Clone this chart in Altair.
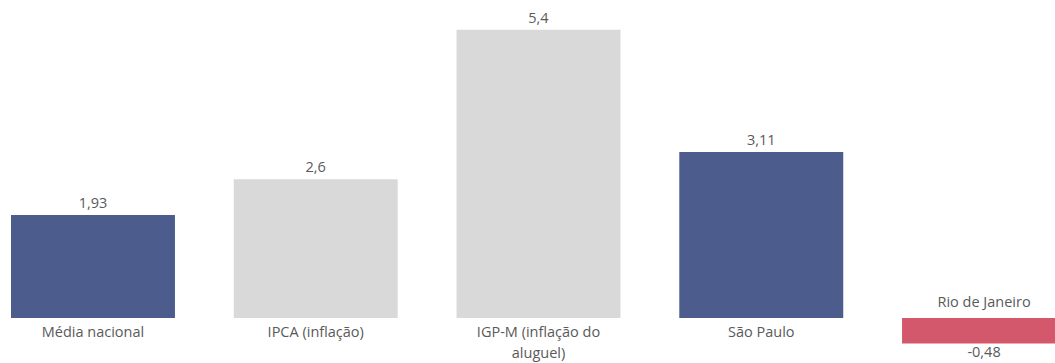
import altair as alt
import pandas as pd

categories = ["Média nacional", "IPCA (inflação)", "IGP-M (inflação do aluguel)", "São Paulo", "Rio de Janeiro"]
cat_lines = [["Média nacional"], ["IPCA (inflação)"], ["IGP-M (inflação do", "aluguel)"], ["São Paulo"], ["Rio de Janeiro"]]
values = [1.93, 2.6, 5.4, 3.11, -0.48]
value_labels = ["1,93", "2,6", "5,4", "3,11", "-0,48"]
colors = ["#4b5c8d", "#d9d9d9", "#d9d9d9", "#4b5c8d", "#d4586b"]

df = pd.DataFrame({
    "cat": categories,
    "lines": cat_lines,
    "value": values,
    "vlabel": value_labels,
    "color": colors,
    "zero": [0] * len(values),
})

FONT = "Open Sans"
TXT = "#5a5a5a"
FS = 14.5

x = alt.X("cat:N", sort=categories, axis=None,
          scale=alt.Scale(range=[0, 1077], paddingInner=0.264, paddingOuter=0.0494))
y_scale = alt.Scale(domain=[-0.843, 5.955], nice=False, zero=False)

bars = alt.Chart(df).mark_bar(clip=True).encode(
    x=x,
    y=alt.Y("value:Q", scale=y_scale, axis=None),
    y2="zero:Q",
    color=alt.Color("color:N", scale=None),
)

pos = df[df["value"] >= 0]
neg = df[df["value"] < 0]

val_pos = alt.Chart(pos).mark_text(font=FONT, fontSize=FS, color=TXT, baseline="bottom", dy=-4).encode(
    x=x, y=alt.Y("value:Q", scale=y_scale, axis=None), text="vlabel:N")
cat_pos = alt.Chart(pos).mark_text(font=FONT, fontSize=FS, color=TXT, baseline="top", dy=8, lineHeight=21).encode(
    x=x, y=alt.Y("zero:Q", scale=y_scale, axis=None), text="lines")
val_neg = alt.Chart(neg).mark_text(font=FONT, fontSize=FS, color=TXT, baseline="top", dy=2).encode(
    x=x, y=alt.Y("value:Q", scale=y_scale, axis=None), text="vlabel:N")
cat_neg = alt.Chart(neg).mark_text(font=FONT, fontSize=FS, color=TXT, baseline="bottom", dy=-8).encode(
    x=x, y=alt.Y("zero:Q", scale=y_scale, axis=None), text="lines")

chart = alt.layer(bars, val_pos, cat_pos, val_neg, cat_neg).properties(
    width=1055, height=363, autosize=alt.AutoSizeParams(type="none"), padding=0,
).configure_view(stroke=None)

chart.save("out.html", embed_options={"renderer": "svg", "actions": False})
